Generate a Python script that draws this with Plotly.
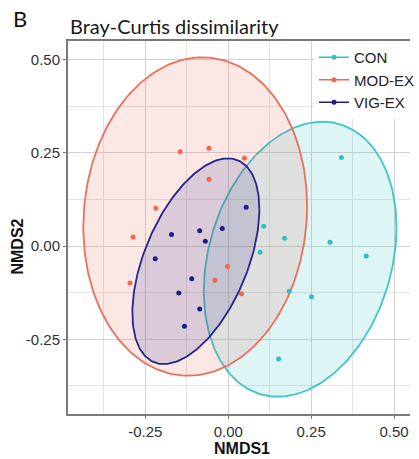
import numpy as np
import plotly.graph_objects as go

# ---- data ----
groups = ["CON", "MOD-EX", "VIG-EX"]

con_x = [0.341, 0.107, 0.170, 0.307, 0.096, 0.416, 0.184, 0.251, 0.152]
con_y = [0.237, 0.053, 0.021, 0.010, -0.017, -0.027, -0.121, -0.136, -0.303]

mod_x = [-0.145, -0.058, 0.049, -0.058, -0.218, -0.287, -0.296, -0.002, -0.040, 0.040]
mod_y = [0.253, 0.262, 0.235, 0.179, 0.101, 0.024, -0.099, -0.055, -0.092, -0.128]

vig_x = [0.054, -0.171, -0.086, -0.018, -0.069, -0.220, -0.110, -0.149, -0.086, -0.132]
vig_y = [0.104, 0.031, 0.041, 0.047, 0.013, -0.034, -0.088, -0.126, -0.169, -0.215]

# 95% ellipse parameters per group: centre, half-extents, covariance-like term
ell_cx = [0.2168, -0.0996, -0.0975]
ell_cy = [-0.0354, 0.0790, -0.0408]
ell_sx = [0.2904, 0.3373, 0.1914]
ell_sy = [0.3686, 0.4268, 0.2757]
ell_cxy = [0.0248, 0.0093, 0.0266]

tick_vals = [-0.25, 0.00, 0.25, 0.50]
tick_text = ["-0.25", "0.00", "0.25", "0.50"]

line_colors = ["#3EC6C8", "#E8705C", "#25258A"]
point_colors = ["#2FC0C2", "#F0674C", "#1E1E88"]
fill_colors = ["rgba(62,198,200,0.17)", "rgba(232,112,92,0.16)", "rgba(37,37,138,0.15)"]

xs = [con_x, mod_x, vig_x]
ys = [con_y, mod_y, vig_y]

fig = go.Figure()

t = np.linspace(0, 2 * np.pi, 241)
for i, g in enumerate(groups):
    k = ell_cxy[i] / ell_sx[i]
    ex = ell_cx[i] + ell_sx[i] * np.cos(t)
    ey = ell_cy[i] + k * np.cos(t) + np.sqrt(ell_sy[i] ** 2 - k ** 2) * np.sin(t)
    fig.add_trace(go.Scatter(
        x=ex, y=ey, mode="lines", fill="toself",
        fillcolor=fill_colors[i],
        line=dict(color=line_colors[i], width=1.8),
        showlegend=False, hoverinfo="skip"))

for i, g in enumerate(groups):
    fig.add_trace(go.Scatter(
        x=xs[i], y=ys[i], mode="markers", name=g,
        marker=dict(color=point_colors[i], size=5),
        showlegend=False))

# legend keys (line + dot)
for i, g in enumerate(groups):
    fig.add_trace(go.Scatter(
        x=[None], y=[None], mode="lines+markers", name=g,
        line=dict(color=point_colors[i], width=1.5),
        marker=dict(color=point_colors[i], size=5)))

axis_common = dict(
    showgrid=True, gridcolor="#D2D2D2", gridwidth=1.1,
    zeroline=False,
    showline=True, linecolor="#7A7A7A", linewidth=2,
    ticks="outside", ticklen=3, tickcolor="#7A7A7A", tickwidth=1,
    tickfont=dict(family="Liberation Sans, Arial", size=15, color="#333333"),
    tickvals=tick_vals, ticktext=tick_text,
    minor=dict(dtick=0.125, tick0=0, showgrid=True, gridcolor="#E4E4E4", gridwidth=1, ticks=""),
)

fig.update_layout(
    width=419, height=459,
    margin=dict(l=68, r=0, t=41, b=45),
    paper_bgcolor="white", plot_bgcolor="white",
    xaxis=dict(range=[-0.483, 0.548], mirror=True, **axis_common),
    yaxis=dict(range=[-0.4504, 0.5496], mirror=False, **axis_common),
    legend=dict(
        x=0.72, y=1.0, xanchor="left", yanchor="top",
        bgcolor="white", borderwidth=0,
        font=dict(family="Liberation Sans, Arial", size=15, color="#222222"),
        itemwidth=30, tracegroupgap=0),
    annotations=[
        dict(text="B", xref="paper", yref="paper", x=-0.168, y=1.06,
             xanchor="left", yanchor="middle", showarrow=False,
             font=dict(family="Lato", size=22, color="#111111")),
        dict(text="Bray-Curtis dissimilarity", xref="paper", yref="paper",
             x=0.0, y=1.041, xanchor="left", yanchor="middle", showarrow=False,
             font=dict(family="Lato", size=20, color="#1a1a1a")),
        dict(text="<b>NMDS1</b>", xref="paper", yref="paper",
             x=0.51, y=-0.0925, xanchor="center", yanchor="middle", showarrow=False,
             font=dict(family="Liberation Sans, Arial", size=16, color="#111111")),
        dict(text="<b>NMDS2</b>", xref="paper", yref="paper",
             x=-0.148, y=0.45, xanchor="center", yanchor="middle", showarrow=False,
             textangle=-90,
             font=dict(family="Liberation Sans, Arial", size=16, color="#111111")),
    ],
)

fig.write_html("out.html")
